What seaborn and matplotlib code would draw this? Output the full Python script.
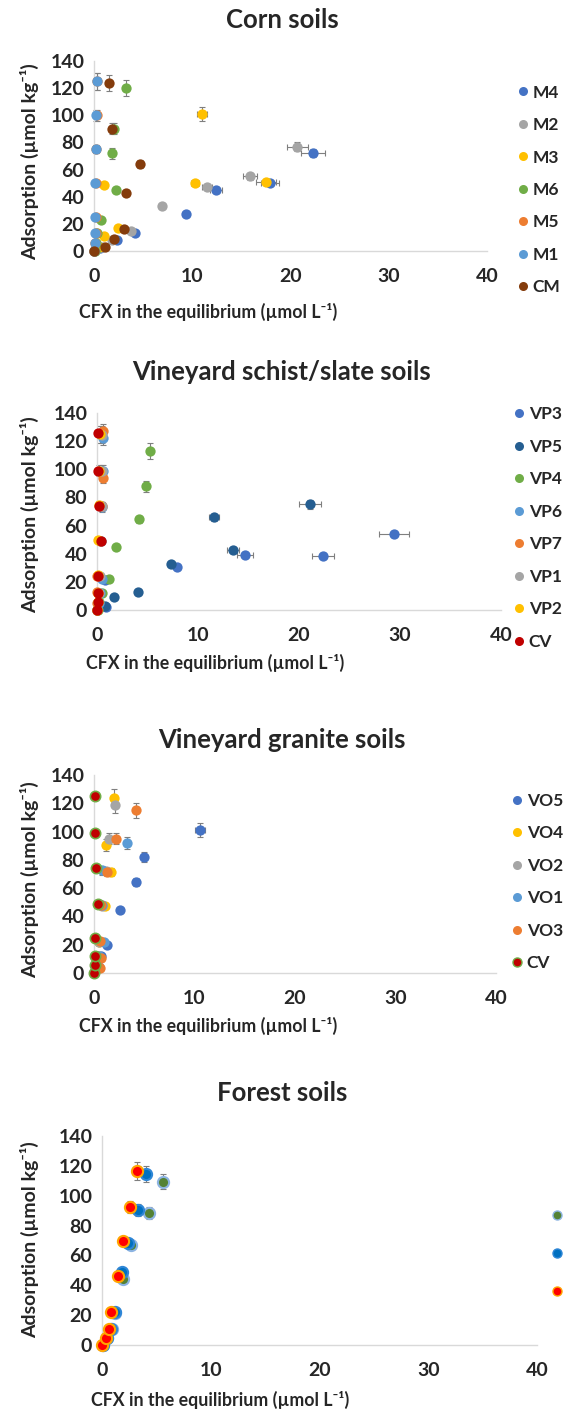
"""
CFX adsorption isotherms for four groups of soils
"""
import matplotlib.pyplot as plt
from matplotlib.lines import Line2D
import seaborn as sns
import pandas as pd

# ---- Corn soils ----
corn_names = ["M4", "M2", "M3", "M6", "M5", "M1", "CM"]
corn_x = {
    "M4": [0.0, 0.6, 2.3, 4.2, 9.4, 12.4, 17.9, 22.3],
    "M2": [0.0, 0.8, 1.8, 3.8, 6.95, 11.5, 15.9, 20.7],
    "M3": [0.0, 0.5, 1.0, 2.4, 1.0, 10.3, 17.5, 11.0],
    "M6": [0.1, 0.2, 0.3, 0.7, 2.2, 1.8, 2.0, 3.3],
    "M5": [0.0, 0.1, 0.2, 0.2, 0.2, 0.25, 0.3, 0.3],
    "M1": [0.0, 0.1, 0.15, 0.1, 0.1, 0.2, 0.2, 0.35],
    "CM": [0.0, 1.1, 2.0, 3.05, 3.3, 4.7, 1.8, 1.5],
}
corn_y = {
    "M4": [0, 2, 8, 13, 27, 45, 50, 72],
    "M2": [0, 3, 8, 15, 33, 47, 55, 77],
    "M3": [0, 3, 11, 17, 49, 50, 51, 101],
    "M6": [0, 6, 13, 23, 45, 72, 90, 120],
    "M5": [0, 6, 13, 25, 50, 75, 100, 125],
    "M1": [0, 6, 13, 25, 50, 75, 100, 125],
    "CM": [0, 3, 9, 16, 43, 64, 90, 124],
}
corn_xerr = {
    "M4": [0, 0, 0, 0.2, 0.3, 0.6, 0.9, 1.2],
    "M2": [0, 0, 0, 0.3, 0.3, 0.5, 0.7, 1.1],
    "M3": [0, 0, 0, 0, 0, 0.4, 1.0, 0.5],
}
corn_yerr = {
    "M4": [0, 0.5, 1, 1, 1.5, 2, 2, 3],
    "M2": [0, 0.5, 1, 1, 2, 2, 2.5, 3.5],
    "M3": [0, 0.5, 1, 1, 2, 2, 2, 5],
    "M6": [0, 0.5, 1, 1, 2, 4, 4, 6],
    "M5": [0, 0.5, 1, 1, 2, 3, 4, 6],
    "M1": [0, 0.5, 1, 1, 2, 3, 4, 6],
    "CM": [0, 0.5, 1, 1, 1.5, 3, 4, 6],
}
corn_colors = ["#4472C4", "#A5A5A5", "#FFC000", "#70AD47", "#ED7D31", "#5B9BD5", "#843C0C"]

# ---- Vineyard schist/slate soils ----
vp_names = ["VP3", "VP5", "VP4", "VP6", "VP7", "VP1", "VP2", "CV"]
vp_x = {
    "VP3": [0.0, 0.9, 0.8, 7.95, 14.65, 22.4, 29.4],
    "VP5": [0.0, 0.8, 1.65, 4.1, 7.36, 13.5, 11.55, 21.1],
    "VP4": [0.1, 0.2, 0.5, 1.15, 1.9, 4.2, 4.9, 5.2],
    "VP6": [0.0, 0.2, 0.3, 0.5, 0.4, 0.5, 0.6, 0.6],
    "VP7": [0.0, 0.0, 0.0, 0.0, 0.3, 0.5, 0.55, 0.6],
    "VP1": [0.0, 0.1, 0.2, 0.3, 0.4, 0.5, 0.5, 0.5],
    "VP2": [0.0, 0.1, 0.1, 0.1, 0.1, 0.15, 0.2, 0.3],
    "CV": [0.0, 0.1, 0.1, 0.1, 0.4, 0.15, 0.1, 0.1],
}
vp_y = {
    "VP3": [0, 2, 21, 30.6, 39.4, 38.7, 54],
    "VP5": [0, 3, 9, 13, 32.5, 42.5, 66, 75],
    "VP4": [0, 6, 12, 22, 45, 64.5, 88, 113],
    "VP6": [0, 5, 12, 22, 49, 73, 99, 122],
    "VP7": [0, 5, 13, 24, 49, 74, 94, 127],
    "VP1": [0, 6, 12, 24, 49, 74, 99, 124.6],
    "VP2": [0, 6, 12, 25, 50, 74.5, 99, 125],
    "CV": [0, 5.5, 12, 24.4, 49, 74, 99, 126],
}
vp_xerr = {
    "VP3": [0, 0, 0, 0.3, 0.8, 1.1, 1.5],
    "VP5": [0, 0, 0, 0, 0.3, 0.6, 0.5, 1.1],
}
vp_yerr = {
    "VP3": [0, 0.5, 1, 1.5, 2, 2, 2],
    "VP5": [0, 0.5, 0.5, 1, 1.5, 2, 2.5, 3.5],
    "VP4": [0, 0.5, 1, 1, 1.5, 2.5, 4, 5.5],
    "VP6": [0, 0.5, 1, 1, 2, 3, 4, 5],
    "VP7": [0, 0.5, 1, 1, 2, 3, 4, 5],
    "VP1": [0, 0.5, 1, 1, 2, 3, 4, 6],
    "VP2": [0, 0.5, 1, 1, 2, 3, 4, 6],
    "CV": [0, 0, 0, 0, 0, 0, 0, 0],
}
vp_colors = ["#4472C4", "#255E91", "#70AD47", "#5B9BD5", "#ED7D31", "#A5A5A5", "#FFC000", "#C00000"]

# ---- Vineyard granite soils ----
vo_names = ["VO5", "VO4", "VO2", "VO1", "VO3", "CV"]
vo_x = {
    "VO5": [0.0, 0.5, 0.7, 1.33, 2.6, 4.2, 4.95, 10.5],
    "VO4": [0.0, 0.2, 0.4, 0.5, 1.13, 1.66, 1.23, 2.0],
    "VO2": [0.0, 0.2, 0.3, 0.5, 0.8, 1.2, 1.5, 2.1],
    "VO1": [0.0, 0.3, 0.5, 1.0, 0.8, 0.8, 3.25],
    "VO3": [0.0, 0.6, 0.73, 0.56, 0.73, 1.33, 2.16, 4.15],
    "CV": [0.0, 0.1, 0.1, 0.1, 0.4, 0.15, 0.1, 0.1],
}
vo_y = {
    "VO5": [0, 4, 12, 20, 44.5, 64.5, 82, 101.4],
    "VO4": [0, 5, 12, 22, 47.5, 71.5, 90.6, 124],
    "VO2": [0, 5, 12, 22, 47.5, 72, 95, 119],
    "VO1": [0, 5, 12, 21.6, 47.8, 72.5, 92],
    "VO3": [0, 3.8, 10.3, 22.8, 47.8, 71.3, 95, 115],
    "CV": [0, 5.4, 11.8, 24.7, 49, 74, 99, 125],
}
vo_xerr = {
    "VO5": [0, 0, 0, 0, 0, 0.3, 0.3, 0.5],
}
vo_yerr = {
    "VO5": [0, 0, 0.5, 1, 1.5, 3, 3.5, 5],
    "VO4": [0, 0.5, 1, 1, 2, 3, 4, 6],
    "VO2": [0, 0.5, 1, 1, 2, 3, 4, 6],
    "VO1": [0, 0.5, 1, 1, 2, 3, 4],
    "VO3": [0, 0.5, 1, 1, 2, 3, 4, 5.5],
    "CV": [0, 0, 0, 0, 0, 0, 0, 0],
}
vo_colors = ["#4472C4", "#FFC000", "#A5A5A5", "#5B9BD5", "#ED7D31", "#C00000"]
vo_edges = [None, None, None, None, None, "#70AD47"]

# ---- Forest soils (series names not visible) ----
fo_names = ["F1", "F2", "F3"]
fo_x = {
    "F1": [0.1, 0.5, 0.9, 1.2, 1.96, 2.7, 4.35, 5.57],
    "F2": [0.1, 0.45, 0.86, 1.16, 1.84, 2.36, 3.28, 4.04],
    "F3": [0.0, 0.4, 0.6, 0.86, 1.44, 1.93, 2.55, 3.2],
}
fo_y = {
    "F1": [0, 4.7, 10.7, 21.6, 44.2, 67.2, 88.4, 109.4],
    "F2": [0, 5, 10.7, 21.9, 48.7, 68, 90.6, 114.7],
    "F3": [0, 4.7, 10.5, 22, 46.2, 69.6, 92.6, 116.5],
}
fo_yerr = {
    "F1": [0, 0.5, 1, 1, 2, 3, 4, 5],
    "F2": [0, 0.5, 1, 1, 2, 3, 4, 5.5],
    "F3": [0, 0.5, 1, 1, 2, 3, 4, 6],
}
fo_colors = ["#548235", "#0070C0", "#FF0000"]
fo_edges = ["#8DB4E2", "#2E86D6", "#FFA500"]

xticks = [0, 10, 20, 30, 40]
yticks = [0, 20, 40, 60, 80, 100, 120, 140]

sns.set_style("white")
plt.rcParams['font.family'] = ['Lato', 'DejaVu Sans']
plt.rcParams['font.weight'] = 'bold'

W, H = 563, 1421
fig = plt.figure(figsize=(W / 100, H / 100), dpi=100)


def px_axes(x0, x1, ytop, ybot):
    return fig.add_axes([x0 / W, 1 - ybot / H, (x1 - x0) / W, (ybot - ytop) / H])


def draw_panel(ax, names, xs, ys, xerrs, yerrs, colors, edges=None, size=55, ew=0.0):
    if edges is None:
        edges = [None] * len(names)
    for name, col, edge in zip(names, colors, edges):
        df = pd.DataFrame({"x": xs[name], "y": ys[name]})
        xe = xerrs.get(name)
        ye = yerrs.get(name)
        ax.errorbar(df["x"], df["y"], xerr=xe, yerr=ye, fmt="none",
                    ecolor="#7F7F7F", elinewidth=0.8, capsize=2.5,
                    capthick=0.8, zorder=2, clip_on=False)
        sns.scatterplot(data=df, x="x", y="y", ax=ax, color=col, s=size,
                        edgecolor=edge if edge else col, linewidth=ew if edge else 0,
                        zorder=3, clip_on=False, legend=False)

    ax.set_xlim(0, 40)
    ax.set_ylim(0, 140)
    ax.set_xticks(xticks)
    ax.set_yticks(yticks)
    ax.set_xlabel("")
    ax.set_ylabel("")
    ax.tick_params(length=0, labelsize=14, colors="#262626")
    ax.tick_params(axis="x", pad=12)
    ax.tick_params(axis="y", pad=7)
    for lab in ax.get_xticklabels() + ax.get_yticklabels():
        lab.set_fontweight("bold")
    sns.despine(ax=ax)
    for sp in ("left", "bottom"):
        ax.spines[sp].set_color("#D9D9D9")
        ax.spines[sp].set_linewidth(1.0)


def legend(ax, names, colors, edges, xpx, ypx, spacing, labels=None, ms=6.5):
    if edges is None:
        edges = [None] * len(names)
    handles = [Line2D([], [], ls="none", marker="o", markersize=ms,
                      markerfacecolor=c, markeredgecolor=e if e else c,
                      markeredgewidth=1.0 if e else 0)
               for c, e in zip(colors, edges)]
    ax.legend(handles, labels if labels is not None else names,
              loc="center left", bbox_to_anchor=(xpx / W, 1 - ypx / H),
              bbox_transform=fig.transFigure, frameon=False, borderpad=0,
              borderaxespad=0, handlelength=0.7, handletextpad=0.2,
              labelspacing=spacing, prop={"size": 12.5, "weight": "bold"})


def texts(title, ty, xl_x, xl_y, yl_y):
    fig.text(282 / W, 1 - ty / H, title, ha="center", va="center",
             fontsize=18.5, fontweight="bold", color="#262626")
    fig.text(xl_x / W, 1 - xl_y / H, "CFX in the equilibrium (µmol L⁻¹)",
             ha="center", va="center", fontsize=12.8, fontweight="bold", color="#262626")
    fig.text(30 / W, 1 - yl_y / H, "Adsorption (µmol kg⁻¹)", rotation=90,
             ha="center", va="center", fontsize=14, fontweight="bold", color="#262626")


# Corn soils
ax1 = px_axes(94, 487, 61, 251)
draw_panel(ax1, corn_names, corn_x, corn_y, corn_xerr, corn_yerr, corn_colors)
legend(ax1, corn_names, corn_colors, None, 517, 190, 0.95)
texts("Corn soils", 20, 208, 312, 162)

# Vineyard schist/slate soils
ax2 = px_axes(97, 501, 413, 610)
draw_panel(ax2, vp_names, vp_x, vp_y, vp_xerr, vp_yerr, vp_colors)
legend(ax2, vp_names, vp_colors, None, 513, 528, 0.95)
texts("Vineyard schist/slate soils", 372, 215, 663, 515)

# Vineyard granite soils
ax3 = px_axes(94, 496, 775, 973)
draw_panel(ax3, vo_names, vo_x, vo_y, vo_xerr, vo_yerr, vo_colors, vo_edges, ew=1.2)
legend(ax3, vo_names, vo_colors, vo_edges, 511, 882, 0.95)
texts("Vineyard granite soils", 740, 208, 1026, 880)

# Forest soils
ax4 = px_axes(102, 537, 1136, 1345)
draw_panel(ax4, fo_names, fo_x, fo_y, {}, fo_yerr, fo_colors, fo_edges, size=65, ew=1.5)
legend(ax4, fo_names, fo_colors, fo_edges, 551, 1254, 1.25, labels=[" ", " ", " "])
texts("Forest soils", 1093, 220, 1400, 1240)

fig.savefig("out.png", dpi=100)
